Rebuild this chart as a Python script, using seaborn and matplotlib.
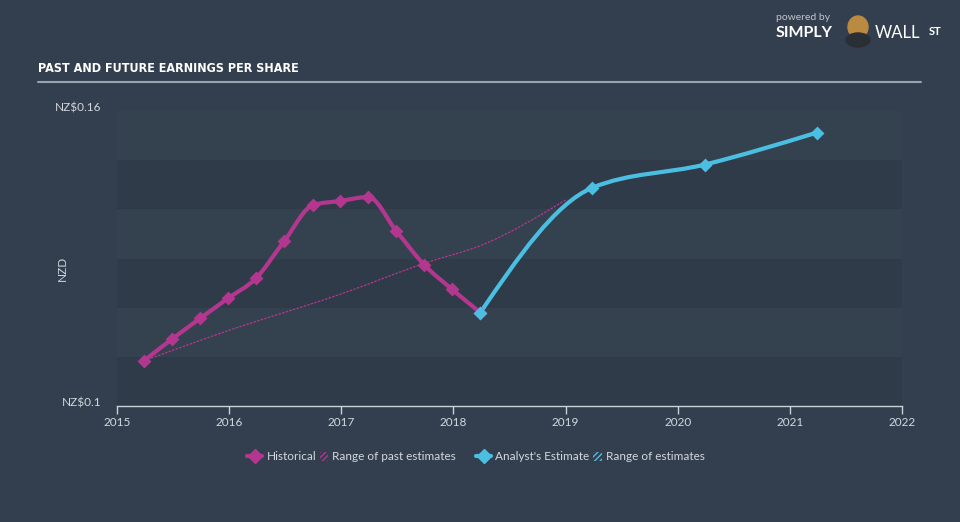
import numpy as np
import pandas as pd
import matplotlib
matplotlib.use("Agg")
import matplotlib.pyplot as plt
from matplotlib.path import Path
from matplotlib.patches import PathPatch, Patch, Ellipse, Rectangle
from matplotlib.lines import Line2D
from matplotlib.legend_handler import HandlerPatch
from matplotlib.transforms import ScaledTranslation
import seaborn as sns

# ---------------- data ----------------
hist_years = [2015.24, 2015.49, 2015.74, 2015.99, 2016.24, 2016.49, 2016.75,
              2016.99, 2017.24, 2017.49, 2017.74, 2017.99, 2018.24]
hist_eps = [0.1092, 0.1136, 0.1178, 0.1219, 0.1260, 0.1335, 0.1409,
            0.1417, 0.1425, 0.1356, 0.1287, 0.1237, 0.1190]

fc_years = [2018.24, 2019.24, 2020.24, 2021.24]
fc_eps = [0.1190, 0.1444, 0.1491, 0.1556]

past_est_years = [2015.24, 2016.0, 2017.0, 2017.75, 2018.25, 2019.0]
past_est_eps = [0.1092, 0.1154, 0.1228, 0.1291, 0.1327, 0.1419]

x_ticks = [2015, 2016, 2017, 2018, 2019, 2020, 2021, 2022]
y_ticks = [0.10, 0.16]
y_tick_labels = ["NZ$0.1", "NZ$0.16"]

title = "PAST AND FUTURE EARNINGS PER SHARE"
y_label = "NZD"
legend_labels = ["Historical", "Range of past estimates", "Analyst's Estimate", "Range of estimates"]

MAGENTA = "#b3378f"
BLUE = "#4bbfe2"
BG = "#333f4e"
AX_BG = "#34414f"
BAND = "#2f3b49"
TXT = "#d3d8de"

# ---------------- helpers (rendering only: smooth path through points) ----------------
def monotone_path(xs, ys):
    xs = np.asarray(xs, float); ys = np.asarray(ys, float)
    n = len(xs)
    h = np.diff(xs); s = np.diff(ys) / h
    t = np.zeros(n)
    for i in range(1, n - 1):
        s0, s1 = s[i - 1], s[i]
        if s0 * s1 <= 0:
            t[i] = 0.0
        else:
            p = (s0 * h[i] + s1 * h[i - 1]) / (h[i - 1] + h[i])
            t[i] = (np.sign(s0) + np.sign(s1)) * min(abs(s0), abs(s1), 0.5 * abs(p))
    if n > 2:
        t[0] = (3 * s[0] - t[1]) / 2
        t[-1] = (3 * s[-1] - t[-2]) / 2
    else:
        t[0] = t[-1] = s[0]
    verts = [(xs[0], ys[0])]
    codes = [Path.MOVETO]
    for i in range(n - 1):
        dx = h[i] / 3
        verts += [(xs[i] + dx, ys[i] + dx * t[i]),
                  (xs[i + 1] - dx, ys[i + 1] - dx * t[i + 1]),
                  (xs[i + 1], ys[i + 1])]
        codes += [Path.CURVE4] * 3
    return Path(verts, codes)

def small_square(legend, orig_handle, xdescent, ydescent, width, height, fontsize):
    side = 6.0
    return Rectangle((width - side - xdescent, (height - side) / 2 - ydescent), side, side)

# ---------------- figure ----------------
sns.set_theme(style="dark")
plt.rcParams["font.family"] = ["Lato", "DejaVu Sans"]
plt.rcParams["hatch.linewidth"] = 1.0

fig = plt.figure(figsize=(9.6, 5.22), dpi=100, facecolor=BG)
W, H = 960, 522
ax = fig.add_axes([117 / W, 1 - 406 / H, (902 - 117) / W, (406 - 111) / H])
ax.set_facecolor(AX_BG)

for lo in (0.10, 0.12, 0.14):
    ax.axhspan(lo, lo + 0.01, color=BAND, lw=0, zorder=0)

# range of past estimates (thin dotted)
ax.add_patch(PathPatch(monotone_path(past_est_years, past_est_eps), fill=False,
                       edgecolor=MAGENTA, lw=0.9, linestyle=(0, (2, 1)), zorder=2))
# historical line
ax.add_patch(PathPatch(monotone_path(hist_years, hist_eps), fill=False,
                       edgecolor=MAGENTA, lw=3, capstyle="round", joinstyle="round", zorder=3))
# forecast line
ax.add_patch(PathPatch(monotone_path(fc_years, fc_eps), fill=False,
                       edgecolor=BLUE, lw=3, capstyle="round", joinstyle="round", zorder=4))

hist_df = pd.DataFrame({"year": hist_years, "eps": hist_eps})
fc_df = pd.DataFrame({"year": fc_years, "eps": fc_eps})
sns.scatterplot(data=hist_df, x="year", y="eps", marker="D", s=50, color=MAGENTA,
                edgecolor=MAGENTA, linewidth=0, ax=ax, zorder=5)
sns.scatterplot(data=fc_df, x="year", y="eps", marker="D", s=50, color=BLUE,
                edgecolor=BLUE, linewidth=0, ax=ax, zorder=6)

ax.set_xlim(2015, 2022)
ax.set_ylim(0.10, 0.16)
ax.set_xticks(x_ticks)
ax.set_xticklabels([str(v) for v in x_ticks], color=TXT, fontsize=8.5)
ax.set_yticks(y_ticks)
ax.set_yticklabels(y_tick_labels, color=TXT, fontsize=8.5)
ax.tick_params(axis="x", length=6, width=1, color="#c9d1d9", pad=2, direction="out", bottom=True)
ax.tick_params(axis="y", length=0, pad=11)
up = ScaledTranslation(0, 4 / 100, fig.dpi_scale_trans)
for lab in ax.get_yticklabels():
    lab.set_transform(lab.get_transform() + up)
ax.set_xlabel("")
ax.set_ylabel("")
for sp in ("top", "right", "left"):
    ax.spines[sp].set_visible(False)
ax.spines["bottom"].set_color("#c9d1d9")
ax.spines["bottom"].set_linewidth(1)
ax.grid(False)

fig.text(62 / W, 1 - 268 / H, y_label, rotation=90, color=TXT, fontsize=8.5,
         ha="center", va="center")

# title and rule
fig.text(38 / W, 1 - 68 / H, title, color="white", fontsize=9, fontweight="bold",
         family="DejaVu Sans", fontstretch="condensed", ha="left", va="center")
fig.add_artist(Line2D([38 / W, 921 / W], [1 - 81.5 / H, 1 - 81.5 / H],
                      transform=fig.transFigure, color="#9aa3ad", lw=1.5))

# logo
fig.text(776 / W, 1 - 17 / H, "powered by", color="#c0c6cc", fontsize=7.5, ha="left", va="center")
fig.text(776 / W, 1 - 33 / H, "SIMPLY", color="white", fontsize=11.5, fontweight="bold",
         ha="left", va="center")
fig.add_artist(Ellipse((858 / W, 1 - 27 / H), 20 / W, 22 / H, transform=fig.transFigure,
                       color="#b98a3f"))
fig.add_artist(Ellipse((858 / W, 1 - 40 / H), 24 / W, 14 / H, transform=fig.transFigure,
                       color="#2a2f36"))
fig.text(875 / W, 1 - 33 / H, "WALL", color="white", fontsize=12, fontweight="normal",
         ha="left", va="center")
fig.text(929 / W, 1 - 31 / H, "ST", color="white", fontsize=8, fontweight="bold",
         ha="left", va="center")

# legend (two groups to reproduce spacing)
hmap = {Patch: HandlerPatch(patch_func=small_square)}
h1 = [Line2D([], [], color=MAGENTA, lw=3, marker="D", markersize=7),
      Patch(facecolor="none", edgecolor=MAGENTA, hatch="//////", lw=0)]
h2 = [Line2D([], [], color=BLUE, lw=3, marker="D", markersize=7),
      Patch(facecolor="none", edgecolor=BLUE, hatch="//////", lw=0)]
leg1 = fig.legend(h1, legend_labels[:2], loc="center left",
                  bbox_to_anchor=(247 / W, 1 - 457 / H), ncol=2, frameon=False, fontsize=8.5,
                  handlelength=1.3, handletextpad=0.35, columnspacing=-0.3, labelcolor=TXT,
                  handler_map=hmap, borderpad=0, borderaxespad=0)
leg2 = fig.legend(h2, legend_labels[2:], loc="center left",
                  bbox_to_anchor=(476 / W, 1 - 457 / H), ncol=2, frameon=False, fontsize=8.5,
                  handlelength=1.3, handletextpad=0.35, columnspacing=-0.3, labelcolor=TXT,
                  handler_map=hmap, borderpad=0, borderaxespad=0)

fig.savefig("out.png", dpi=100, facecolor=BG)
